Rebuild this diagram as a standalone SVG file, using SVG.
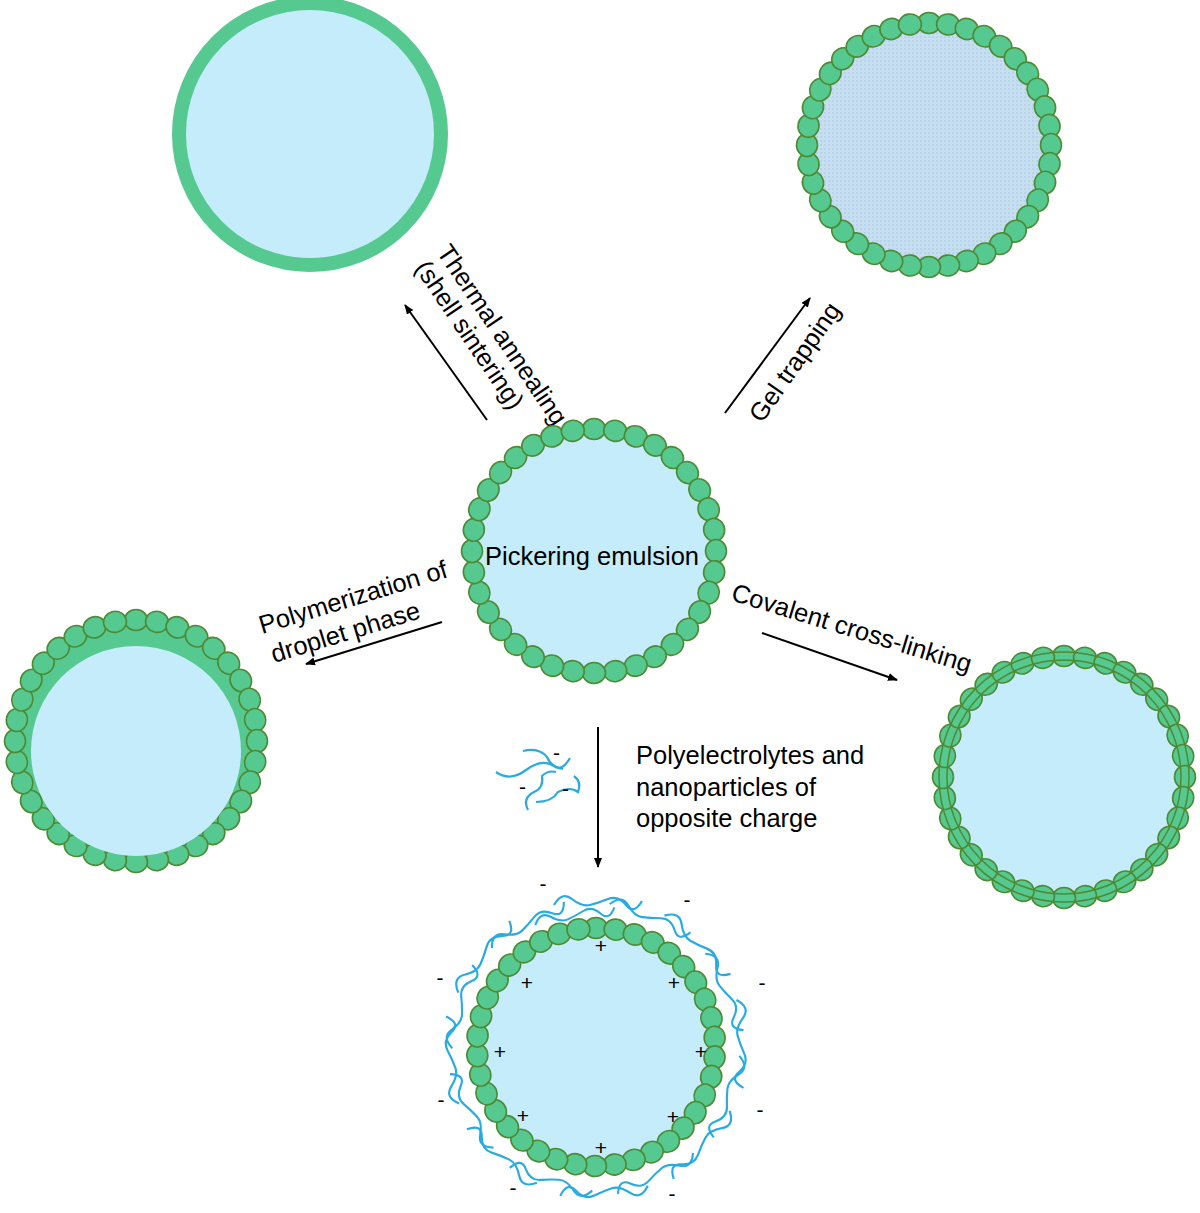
<svg xmlns="http://www.w3.org/2000/svg" xmlns:xlink="http://www.w3.org/1999/xlink" width="1200" height="1213" viewBox="0 0 1200 1213">
<style>
.core{fill:#c4ecfb}
.bd{fill:#55c98f;stroke:#4e8a34;stroke-width:1.6}
.t{font-family:"Liberation Sans",Arial,sans-serif;font-size:25.5px;fill:#000}
.s{font-family:"Liberation Sans",Arial,sans-serif;font-size:21px;fill:#000}
.ar{stroke:#000;stroke-width:2;fill:none;marker-end:url(#ah)}
.pe{stroke:#29abe2;stroke-width:2.2;fill:none}
.xl{fill:none;stroke:#4e8a34;stroke-width:1.5}
</style>
<defs>
<marker id="ah" markerWidth="10" markerHeight="8" refX="9" refY="4" orient="auto" markerUnits="userSpaceOnUse"><path d="M0,0 L10,4 L0,8 z" fill="#000"/></marker>
<ellipse id="b" class="bd" cx="0" cy="0" rx="11.5" ry="10.5"/>
<pattern id="dots" width="4" height="4" patternUnits="userSpaceOnUse"><rect width="4" height="4" fill="#c6dff0"/><rect width="2" height="2" fill="#b7d3ea"/></pattern>
<path id="w" class="pe" d="M-42,-142 q8,-14 18,-6 t18,6 t18,-6 t18,6 t16,-4"/>
</defs>

<g id="thermal">
<circle cx="310" cy="134" r="131" class="core" stroke="#55c98f" stroke-width="14"/>
</g>

<g id="gel">
<circle cx="929" cy="145" r="120" fill="url(#dots)"/>
<use href="#b" transform="translate(929,145) rotate(0) translate(0,-122)"/>
<use href="#b" transform="translate(929,145) rotate(9) translate(0,-122)"/>
<use href="#b" transform="translate(929,145) rotate(18) translate(0,-122)"/>
<use href="#b" transform="translate(929,145) rotate(27) translate(0,-122)"/>
<use href="#b" transform="translate(929,145) rotate(36) translate(0,-122)"/>
<use href="#b" transform="translate(929,145) rotate(45) translate(0,-122)"/>
<use href="#b" transform="translate(929,145) rotate(54) translate(0,-122)"/>
<use href="#b" transform="translate(929,145) rotate(63) translate(0,-122)"/>
<use href="#b" transform="translate(929,145) rotate(72) translate(0,-122)"/>
<use href="#b" transform="translate(929,145) rotate(81) translate(0,-122)"/>
<use href="#b" transform="translate(929,145) rotate(90) translate(0,-122)"/>
<use href="#b" transform="translate(929,145) rotate(99) translate(0,-122)"/>
<use href="#b" transform="translate(929,145) rotate(108) translate(0,-122)"/>
<use href="#b" transform="translate(929,145) rotate(117) translate(0,-122)"/>
<use href="#b" transform="translate(929,145) rotate(126) translate(0,-122)"/>
<use href="#b" transform="translate(929,145) rotate(135) translate(0,-122)"/>
<use href="#b" transform="translate(929,145) rotate(144) translate(0,-122)"/>
<use href="#b" transform="translate(929,145) rotate(153) translate(0,-122)"/>
<use href="#b" transform="translate(929,145) rotate(162) translate(0,-122)"/>
<use href="#b" transform="translate(929,145) rotate(171) translate(0,-122)"/>
<use href="#b" transform="translate(929,145) rotate(180) translate(0,-122)"/>
<use href="#b" transform="translate(929,145) rotate(189) translate(0,-122)"/>
<use href="#b" transform="translate(929,145) rotate(198) translate(0,-122)"/>
<use href="#b" transform="translate(929,145) rotate(207) translate(0,-122)"/>
<use href="#b" transform="translate(929,145) rotate(216) translate(0,-122)"/>
<use href="#b" transform="translate(929,145) rotate(225) translate(0,-122)"/>
<use href="#b" transform="translate(929,145) rotate(234) translate(0,-122)"/>
<use href="#b" transform="translate(929,145) rotate(243) translate(0,-122)"/>
<use href="#b" transform="translate(929,145) rotate(252) translate(0,-122)"/>
<use href="#b" transform="translate(929,145) rotate(261) translate(0,-122)"/>
<use href="#b" transform="translate(929,145) rotate(270) translate(0,-122)"/>
<use href="#b" transform="translate(929,145) rotate(279) translate(0,-122)"/>
<use href="#b" transform="translate(929,145) rotate(288) translate(0,-122)"/>
<use href="#b" transform="translate(929,145) rotate(297) translate(0,-122)"/>
<use href="#b" transform="translate(929,145) rotate(306) translate(0,-122)"/>
<use href="#b" transform="translate(929,145) rotate(315) translate(0,-122)"/>
<use href="#b" transform="translate(929,145) rotate(324) translate(0,-122)"/>
<use href="#b" transform="translate(929,145) rotate(333) translate(0,-122)"/>
<use href="#b" transform="translate(929,145) rotate(342) translate(0,-122)"/>
<use href="#b" transform="translate(929,145) rotate(351) translate(0,-122)"/>
</g>

<g id="connectors">
<line x1="487" y1="420" x2="405" y2="305" class="ar"/>
<line x1="725" y1="413" x2="810" y2="298" class="ar"/>
<line x1="442" y1="622" x2="306" y2="664" class="ar"/>
<line x1="762" y1="633" x2="897" y2="680" class="ar"/>
<line x1="598" y1="727" x2="598" y2="867" class="ar"/>
</g>

<g id="labels">
<text class="t" transform="translate(436,252) rotate(56)">Thermal annealing</text>
<text class="t" transform="translate(414,268) rotate(56)">(shell sintering)</text>
<text class="t" transform="translate(762,424) rotate(-55)">Gel trapping</text>
<text class="t" transform="translate(262,634) rotate(-17)">Polymerization of</text>
<text class="t" transform="translate(274,663) rotate(-17)">droplet phase</text>
<text class="t" transform="translate(730,600) rotate(17)">Covalent cross-linking</text>
<text class="t" x="636" y="764">Polyelectrolytes and</text>
<text class="t" x="636" y="796">nanoparticles of</text>
<text class="t" x="636" y="827">opposite charge</text>
</g>

<g id="pickering">
<circle cx="594" cy="551" r="118" class="core"/>
<use href="#b" transform="translate(594,551) rotate(0) translate(0,-122)"/>
<use href="#b" transform="translate(594,551) rotate(10) translate(0,-122)"/>
<use href="#b" transform="translate(594,551) rotate(20) translate(0,-122)"/>
<use href="#b" transform="translate(594,551) rotate(30) translate(0,-122)"/>
<use href="#b" transform="translate(594,551) rotate(40) translate(0,-122)"/>
<use href="#b" transform="translate(594,551) rotate(50) translate(0,-122)"/>
<use href="#b" transform="translate(594,551) rotate(60) translate(0,-122)"/>
<use href="#b" transform="translate(594,551) rotate(70) translate(0,-122)"/>
<use href="#b" transform="translate(594,551) rotate(80) translate(0,-122)"/>
<use href="#b" transform="translate(594,551) rotate(90) translate(0,-122)"/>
<use href="#b" transform="translate(594,551) rotate(100) translate(0,-122)"/>
<use href="#b" transform="translate(594,551) rotate(110) translate(0,-122)"/>
<use href="#b" transform="translate(594,551) rotate(120) translate(0,-122)"/>
<use href="#b" transform="translate(594,551) rotate(130) translate(0,-122)"/>
<use href="#b" transform="translate(594,551) rotate(140) translate(0,-122)"/>
<use href="#b" transform="translate(594,551) rotate(150) translate(0,-122)"/>
<use href="#b" transform="translate(594,551) rotate(160) translate(0,-122)"/>
<use href="#b" transform="translate(594,551) rotate(170) translate(0,-122)"/>
<use href="#b" transform="translate(594,551) rotate(180) translate(0,-122)"/>
<use href="#b" transform="translate(594,551) rotate(190) translate(0,-122)"/>
<use href="#b" transform="translate(594,551) rotate(200) translate(0,-122)"/>
<use href="#b" transform="translate(594,551) rotate(210) translate(0,-122)"/>
<use href="#b" transform="translate(594,551) rotate(220) translate(0,-122)"/>
<use href="#b" transform="translate(594,551) rotate(230) translate(0,-122)"/>
<use href="#b" transform="translate(594,551) rotate(240) translate(0,-122)"/>
<use href="#b" transform="translate(594,551) rotate(250) translate(0,-122)"/>
<use href="#b" transform="translate(594,551) rotate(260) translate(0,-122)"/>
<use href="#b" transform="translate(594,551) rotate(270) translate(0,-122)"/>
<use href="#b" transform="translate(594,551) rotate(280) translate(0,-122)"/>
<use href="#b" transform="translate(594,551) rotate(290) translate(0,-122)"/>
<use href="#b" transform="translate(594,551) rotate(300) translate(0,-122)"/>
<use href="#b" transform="translate(594,551) rotate(310) translate(0,-122)"/>
<use href="#b" transform="translate(594,551) rotate(320) translate(0,-122)"/>
<use href="#b" transform="translate(594,551) rotate(330) translate(0,-122)"/>
<use href="#b" transform="translate(594,551) rotate(340) translate(0,-122)"/>
<use href="#b" transform="translate(594,551) rotate(350) translate(0,-122)"/>
<text class="t" x="592" y="565" text-anchor="middle">Pickering emulsion</text>
</g>

<g id="polymerization">
<circle cx="136" cy="741" r="121" fill="#55c98f"/>
<use href="#b" transform="translate(136,741) rotate(0) translate(0,-121)"/>
<use href="#b" transform="translate(136,741) rotate(10) translate(0,-121)"/>
<use href="#b" transform="translate(136,741) rotate(20) translate(0,-121)"/>
<use href="#b" transform="translate(136,741) rotate(30) translate(0,-121)"/>
<use href="#b" transform="translate(136,741) rotate(40) translate(0,-121)"/>
<use href="#b" transform="translate(136,741) rotate(50) translate(0,-121)"/>
<use href="#b" transform="translate(136,741) rotate(60) translate(0,-121)"/>
<use href="#b" transform="translate(136,741) rotate(70) translate(0,-121)"/>
<use href="#b" transform="translate(136,741) rotate(80) translate(0,-121)"/>
<use href="#b" transform="translate(136,741) rotate(90) translate(0,-121)"/>
<use href="#b" transform="translate(136,741) rotate(100) translate(0,-121)"/>
<use href="#b" transform="translate(136,741) rotate(110) translate(0,-121)"/>
<use href="#b" transform="translate(136,741) rotate(120) translate(0,-121)"/>
<use href="#b" transform="translate(136,741) rotate(130) translate(0,-121)"/>
<use href="#b" transform="translate(136,741) rotate(140) translate(0,-121)"/>
<use href="#b" transform="translate(136,741) rotate(150) translate(0,-121)"/>
<use href="#b" transform="translate(136,741) rotate(160) translate(0,-121)"/>
<use href="#b" transform="translate(136,741) rotate(170) translate(0,-121)"/>
<use href="#b" transform="translate(136,741) rotate(180) translate(0,-121)"/>
<use href="#b" transform="translate(136,741) rotate(190) translate(0,-121)"/>
<use href="#b" transform="translate(136,741) rotate(200) translate(0,-121)"/>
<use href="#b" transform="translate(136,741) rotate(210) translate(0,-121)"/>
<use href="#b" transform="translate(136,741) rotate(220) translate(0,-121)"/>
<use href="#b" transform="translate(136,741) rotate(230) translate(0,-121)"/>
<use href="#b" transform="translate(136,741) rotate(240) translate(0,-121)"/>
<use href="#b" transform="translate(136,741) rotate(250) translate(0,-121)"/>
<use href="#b" transform="translate(136,741) rotate(260) translate(0,-121)"/>
<use href="#b" transform="translate(136,741) rotate(270) translate(0,-121)"/>
<use href="#b" transform="translate(136,741) rotate(280) translate(0,-121)"/>
<use href="#b" transform="translate(136,741) rotate(290) translate(0,-121)"/>
<use href="#b" transform="translate(136,741) rotate(300) translate(0,-121)"/>
<use href="#b" transform="translate(136,741) rotate(310) translate(0,-121)"/>
<use href="#b" transform="translate(136,741) rotate(320) translate(0,-121)"/>
<use href="#b" transform="translate(136,741) rotate(330) translate(0,-121)"/>
<use href="#b" transform="translate(136,741) rotate(340) translate(0,-121)"/>
<use href="#b" transform="translate(136,741) rotate(350) translate(0,-121)"/>
<circle cx="136" cy="751" r="105" class="core"/>
</g>

<g id="crosslinked">
<circle cx="1064" cy="777" r="118" class="core"/>
<use href="#b" transform="translate(1064,777) rotate(0) translate(0,-121)"/>
<use href="#b" transform="translate(1064,777) rotate(10) translate(0,-121)"/>
<use href="#b" transform="translate(1064,777) rotate(20) translate(0,-121)"/>
<use href="#b" transform="translate(1064,777) rotate(30) translate(0,-121)"/>
<use href="#b" transform="translate(1064,777) rotate(40) translate(0,-121)"/>
<use href="#b" transform="translate(1064,777) rotate(50) translate(0,-121)"/>
<use href="#b" transform="translate(1064,777) rotate(60) translate(0,-121)"/>
<use href="#b" transform="translate(1064,777) rotate(70) translate(0,-121)"/>
<use href="#b" transform="translate(1064,777) rotate(80) translate(0,-121)"/>
<use href="#b" transform="translate(1064,777) rotate(90) translate(0,-121)"/>
<use href="#b" transform="translate(1064,777) rotate(100) translate(0,-121)"/>
<use href="#b" transform="translate(1064,777) rotate(110) translate(0,-121)"/>
<use href="#b" transform="translate(1064,777) rotate(120) translate(0,-121)"/>
<use href="#b" transform="translate(1064,777) rotate(130) translate(0,-121)"/>
<use href="#b" transform="translate(1064,777) rotate(140) translate(0,-121)"/>
<use href="#b" transform="translate(1064,777) rotate(150) translate(0,-121)"/>
<use href="#b" transform="translate(1064,777) rotate(160) translate(0,-121)"/>
<use href="#b" transform="translate(1064,777) rotate(170) translate(0,-121)"/>
<use href="#b" transform="translate(1064,777) rotate(180) translate(0,-121)"/>
<use href="#b" transform="translate(1064,777) rotate(190) translate(0,-121)"/>
<use href="#b" transform="translate(1064,777) rotate(200) translate(0,-121)"/>
<use href="#b" transform="translate(1064,777) rotate(210) translate(0,-121)"/>
<use href="#b" transform="translate(1064,777) rotate(220) translate(0,-121)"/>
<use href="#b" transform="translate(1064,777) rotate(230) translate(0,-121)"/>
<use href="#b" transform="translate(1064,777) rotate(240) translate(0,-121)"/>
<use href="#b" transform="translate(1064,777) rotate(250) translate(0,-121)"/>
<use href="#b" transform="translate(1064,777) rotate(260) translate(0,-121)"/>
<use href="#b" transform="translate(1064,777) rotate(270) translate(0,-121)"/>
<use href="#b" transform="translate(1064,777) rotate(280) translate(0,-121)"/>
<use href="#b" transform="translate(1064,777) rotate(290) translate(0,-121)"/>
<use href="#b" transform="translate(1064,777) rotate(300) translate(0,-121)"/>
<use href="#b" transform="translate(1064,777) rotate(310) translate(0,-121)"/>
<use href="#b" transform="translate(1064,777) rotate(320) translate(0,-121)"/>
<use href="#b" transform="translate(1064,777) rotate(330) translate(0,-121)"/>
<use href="#b" transform="translate(1064,777) rotate(340) translate(0,-121)"/>
<use href="#b" transform="translate(1064,777) rotate(350) translate(0,-121)"/>
<circle cx="1064" cy="777" r="117" class="xl"/>
<circle cx="1064" cy="777" r="125" class="xl"/>
</g>

<g id="polyelectrolyte-free">
<path class="pe" d="M496,772 q14,10 30,-2 t28,-4 q8,6 16,-8"/>
<path class="pe" d="M523,751 q16,-4 24,6 q4,10 16,12"/>
<path class="pe" d="M528,810 q-6,-12 6,-18 q10,-4 8,-16 q6,-6 14,-4"/>
<path class="pe" d="M536,802 q16,0 22,-10 q12,-6 20,0 q4,-10 -4,-16"/>
<text class="s" x="553" y="760">-</text>
<text class="s" x="519" y="794">-</text>
<text class="s" x="562" y="796">-</text>
</g>

<g id="polyelectrolyte-capsule">
<circle cx="596" cy="1047" r="115" class="core"/>
<use href="#w" transform="translate(596,1047) rotate(0)"/>
<use href="#w" transform="translate(596,1047) rotate(22) scale(0.97)"/>
<use href="#w" transform="translate(596,1047) rotate(44)"/>
<use href="#w" transform="translate(596,1047) rotate(66) scale(0.97)"/>
<use href="#w" transform="translate(596,1047) rotate(88)"/>
<use href="#w" transform="translate(596,1047) rotate(110) scale(0.97)"/>
<use href="#w" transform="translate(596,1047) rotate(132)"/>
<use href="#w" transform="translate(596,1047) rotate(154) scale(0.97)"/>
<use href="#w" transform="translate(596,1047) rotate(176)"/>
<use href="#w" transform="translate(596,1047) rotate(198) scale(0.97)"/>
<use href="#w" transform="translate(596,1047) rotate(220)"/>
<use href="#w" transform="translate(596,1047) rotate(242) scale(0.97)"/>
<use href="#w" transform="translate(596,1047) rotate(264)"/>
<use href="#w" transform="translate(596,1047) rotate(286) scale(0.97)"/>
<use href="#w" transform="translate(596,1047) rotate(308)"/>
<use href="#w" transform="translate(596,1047) rotate(330) scale(0.97)"/>
<use href="#w" transform="translate(596,1047) rotate(350) scale(0.92)"/>
<use href="#b" transform="translate(596,1047) rotate(0) translate(0,-119)"/>
<use href="#b" transform="translate(596,1047) rotate(9.5) translate(0,-119)"/>
<use href="#b" transform="translate(596,1047) rotate(19) translate(0,-119)"/>
<use href="#b" transform="translate(596,1047) rotate(28.5) translate(0,-119)"/>
<use href="#b" transform="translate(596,1047) rotate(38) translate(0,-119)"/>
<use href="#b" transform="translate(596,1047) rotate(47.5) translate(0,-119)"/>
<use href="#b" transform="translate(596,1047) rotate(57) translate(0,-119)"/>
<use href="#b" transform="translate(596,1047) rotate(66.5) translate(0,-119)"/>
<use href="#b" transform="translate(596,1047) rotate(76) translate(0,-119)"/>
<use href="#b" transform="translate(596,1047) rotate(85.5) translate(0,-119)"/>
<use href="#b" transform="translate(596,1047) rotate(95) translate(0,-119)"/>
<use href="#b" transform="translate(596,1047) rotate(104.5) translate(0,-119)"/>
<use href="#b" transform="translate(596,1047) rotate(114) translate(0,-119)"/>
<use href="#b" transform="translate(596,1047) rotate(123.5) translate(0,-119)"/>
<use href="#b" transform="translate(596,1047) rotate(133) translate(0,-119)"/>
<use href="#b" transform="translate(596,1047) rotate(142.5) translate(0,-119)"/>
<use href="#b" transform="translate(596,1047) rotate(152) translate(0,-119)"/>
<use href="#b" transform="translate(596,1047) rotate(161.5) translate(0,-119)"/>
<use href="#b" transform="translate(596,1047) rotate(171) translate(0,-119)"/>
<use href="#b" transform="translate(596,1047) rotate(180.5) translate(0,-119)"/>
<use href="#b" transform="translate(596,1047) rotate(190) translate(0,-119)"/>
<use href="#b" transform="translate(596,1047) rotate(199.5) translate(0,-119)"/>
<use href="#b" transform="translate(596,1047) rotate(209) translate(0,-119)"/>
<use href="#b" transform="translate(596,1047) rotate(218.5) translate(0,-119)"/>
<use href="#b" transform="translate(596,1047) rotate(228) translate(0,-119)"/>
<use href="#b" transform="translate(596,1047) rotate(237.5) translate(0,-119)"/>
<use href="#b" transform="translate(596,1047) rotate(247) translate(0,-119)"/>
<use href="#b" transform="translate(596,1047) rotate(256.5) translate(0,-119)"/>
<use href="#b" transform="translate(596,1047) rotate(266) translate(0,-119)"/>
<use href="#b" transform="translate(596,1047) rotate(275.5) translate(0,-119)"/>
<use href="#b" transform="translate(596,1047) rotate(285) translate(0,-119)"/>
<use href="#b" transform="translate(596,1047) rotate(294.5) translate(0,-119)"/>
<use href="#b" transform="translate(596,1047) rotate(304) translate(0,-119)"/>
<use href="#b" transform="translate(596,1047) rotate(313.5) translate(0,-119)"/>
<use href="#b" transform="translate(596,1047) rotate(323) translate(0,-119)"/>
<use href="#b" transform="translate(596,1047) rotate(332.5) translate(0,-119)"/>
<use href="#b" transform="translate(596,1047) rotate(342) translate(0,-119)"/>
<use href="#b" transform="translate(596,1047) rotate(351.5) translate(0,-119)"/>
<g class="s" text-anchor="middle">
<text x="601" y="953">+</text><text x="527" y="990">+</text><text x="674" y="990">+</text>
<text x="500" y="1059">+</text><text x="701" y="1059">+</text><text x="523" y="1123">+</text>
<text x="673" y="1124">+</text><text x="601" y="1155">+</text>
<text x="543" y="891">-</text><text x="687" y="907">-</text><text x="440" y="985">-</text>
<text x="762" y="990">-</text><text x="441" y="1107">-</text><text x="760" y="1117">-</text>
<text x="513" y="1195">-</text><text x="672" y="1201">-</text>
</g>
</g>
</svg>
